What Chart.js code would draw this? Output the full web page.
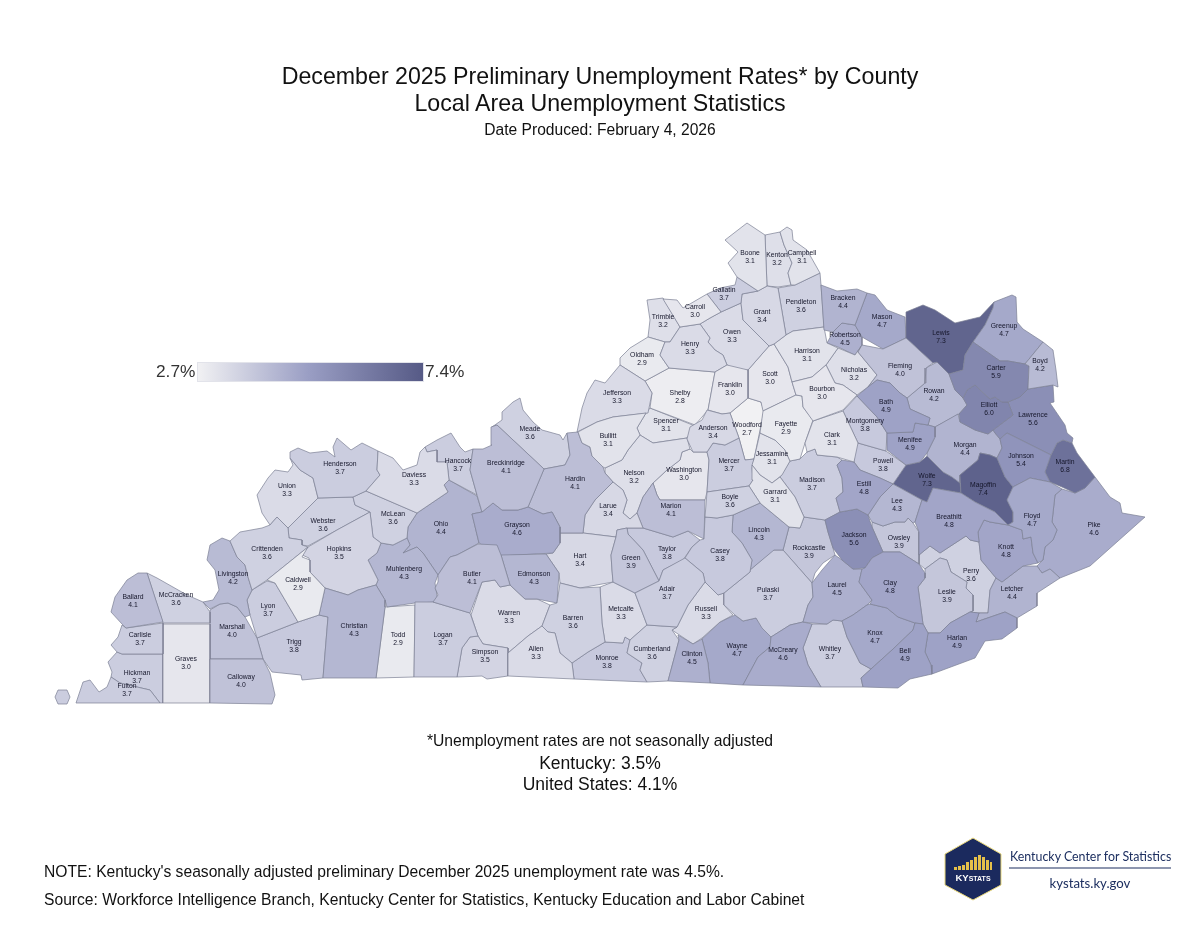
<!DOCTYPE html>
<html>
<head>
<meta charset="utf-8">
<title>Kentucky county unemployment rates</title>
<script src="https://cdn.jsdelivr.net/npm/chart.js@4"></script>
<style>
  html, body { margin: 0; padding: 0; background: #fff; }
  #page { position: relative; width: 1200px; height: 927px; overflow: hidden; font-family: "Liberation Sans", Arial, sans-serif; color: #111; }
  #map { position: absolute; left: 0; top: 0; }
  .t { position: absolute; white-space: nowrap; line-height: 1; }
  .c { left: 0; width: 1200px; text-align: center; }
  #ramp { position: absolute; left: 197px; top: 362px; width: 227px; height: 20px; box-sizing: border-box; border: 1px solid #e2e3ea; background: linear-gradient(90deg, #f1f1f3 0%, #9a9ec4 49%, #565a86 100%); }
  #logo { position: absolute; left: 940px; top: 832px; }
</style>
</head>
<body>
<div id="page">
  <canvas id="map" width="1200" height="927"></canvas>
  <div class="t c" style="top:65px;font-size:23.2px">December 2025 Preliminary Unemployment Rates* by County</div>
  <div class="t c" style="top:92px;font-size:23.2px">Local Area Unemployment Statistics</div>
  <div class="t c" style="top:122px;font-size:15.6px">Date Produced: February 4, 2026</div>
  <div id="ramp"></div>
  <div class="t" style="left:156px;top:363px;font-size:17.3px;color:#333">2.7%</div>
  <div class="t" style="left:425px;top:363px;font-size:17.3px;color:#333">7.4%</div>
  <div class="t c" style="top:733px;font-size:15.7px">*Unemployment rates are not seasonally adjusted</div>
  <div class="t c" style="top:755px;font-size:17.5px">Kentucky: 3.5%</div>
  <div class="t c" style="top:776px;font-size:17.5px">United States: 4.1%</div>
  <div class="t" style="left:44px;top:864px;font-size:15.65px">NOTE: Kentucky's seasonally adjusted preliminary December 2025 unemployment rate was 4.5%.</div>
  <div class="t" style="left:44px;top:892px;font-size:15.65px">Source: Workforce Intelligence Branch, Kentucky Center for Statistics, Kentucky Education and Labor Cabinet</div>
  <svg id="logo" width="240" height="75" viewBox="940 832 240 75">
    <polygon points="973,838 1001,854 1001,885 973,900 945,885 945,854" fill="#1b2a5e" stroke="#e8d77a" stroke-width="1"/>
    <g fill="#e6c04a">
      <rect x="954" y="867" width="3" height="3"/><rect x="958" y="866" width="3" height="4"/><rect x="962" y="865" width="3" height="5"/>
      <rect x="966" y="862" width="3" height="8"/><rect x="970" y="860" width="3" height="10"/><rect x="974" y="857" width="3" height="13"/>
      <rect x="978" y="855" width="3" height="15"/><rect x="982" y="857" width="3" height="13"/><rect x="986" y="860" width="3" height="10"/><rect x="990" y="862" width="2" height="8"/>
    </g>
    <text x="973" y="881" text-anchor="middle" fill="#fff" font-family="Liberation Sans" font-weight="bold" font-size="9.5">KY<tspan font-size="7">STATS</tspan></text>
    <text x="1010" y="861" fill="#1d2f60" font-family="Lato" font-size="12.4">Kentucky Center for Statistics</text>
    <line x1="1009" y1="868" x2="1171" y2="868" stroke="#1d2f60" stroke-width="1.2"/>
    <text x="1090" y="888" text-anchor="middle" fill="#1d2f60" font-family="Lato" font-size="13.2">kystats.ky.gov</text>
  </svg>
</div>
<script>
const countyNames = ['Adair','Allen','Anderson','Ballard','Barren','Bath','Bell','Boone','Bourbon','Boyd','Boyle','Bracken','Breathitt','Breckinridge','Bullitt','Butler','Caldwell','Calloway','Campbell','Carlisle','Carroll','Carter','Casey','Christian','Clark','Clay','Clinton','Crittenden','Cumberland','Daviess','Edmonson','Elliott','Estill','Fayette','Fleming','Floyd','Franklin','Fulton','Gallatin','Garrard','Grant','Graves','Grayson','Green','Greenup','Hancock','Hardin','Harlan','Harrison','Hart','Henderson','Henry','Hickman','Hopkins','Jackson','Jefferson','Jessamine','Johnson','Kenton','Knott','Knox','Larue','Laurel','Lawrence','Lee','Leslie','Letcher','Lewis','Lincoln','Livingston','Logan','Lyon','McCracken','McCreary','McLean','Madison','Magoffin','Marion','Marshall','Martin','Mason','Meade','Menifee','Mercer','Metcalfe','Monroe','Montgomery','Morgan','Muhlenberg','Nelson','Nicholas','Ohio','Oldham','Owen','Owsley','Pendleton','Perry','Pike','Powell','Pulaski','Robertson','Rockcastle','Rowan','Russell','Scott','Shelby','Simpson','Spencer','Taylor','Todd','Trigg','Trimble','Union','Warren','Washington','Wayne','Webster','Whitley','Wolfe','Woodford'];

const countyRates = [3.7,3.3,3.4,4.1,3.6,4.9,4.9,3.1,3.0,4.2,3.6,4.4,4.8,4.1,3.1,4.1,2.9,4.0,3.1,3.7,3.0,5.9,3.8,4.3,3.1,4.8,4.5,3.6,3.6,3.3,4.3,6.0,4.8,2.9,4.0,4.7,3.0,3.7,3.7,3.1,3.4,3.0,4.6,3.9,4.7,3.7,4.1,4.9,3.1,3.4,3.7,3.3,3.7,3.5,5.6,3.3,3.1,5.4,3.2,4.8,4.7,3.4,4.5,5.6,4.3,3.9,4.4,7.3,4.3,4.2,3.7,3.7,3.6,4.6,3.6,3.7,7.4,4.1,4.0,6.8,4.7,3.6,4.9,3.7,3.3,3.8,3.8,4.4,4.3,3.2,3.2,4.4,2.9,3.3,3.9,3.6,3.6,4.6,3.8,3.7,4.5,3.9,4.2,3.3,3.0,2.8,3.5,3.1,3.8,2.9,3.8,3.2,3.3,3.3,3.0,4.7,3.6,3.7,7.3,2.7];

// county shapes, in map units (1 unit = 1 px of the source image, y grows down)
const countyOutlines = [
  [[663,570],[685,558],[703,573],[705,582],[688,605],[677,627],[647,625],[635,593],[659,581]],
  [[508,653],[528,636],[542,626],[548,632],[555,633],[560,653],[572,663],[574,679],[508,676]],
  [[707,410],[722,414],[730,413],[739,438],[725,445],[713,443],[707,452],[693,452],[687,439],[690,427],[702,420]],
  [[147,573],[163,622],[126,628],[122,624],[111,612],[115,597],[127,580],[138,573]],
  [[560,583],[580,588],[600,587],[602,623],[605,642],[588,652],[572,663],[560,653],[555,633],[548,632],[542,626],[550,605],[557,603]],
  [[857,396],[868,387],[877,380],[890,383],[900,393],[907,398],[910,409],[930,418],[928,425],[915,423],[913,432],[887,433],[877,417]],
  [[861,678],[871,669],[892,650],[913,630],[915,623],[923,624],[928,633],[925,652],[931,665],[932,674],[910,679],[898,688],[863,687]],
  [[747,223],[765,235],[767,286],[758,291],[737,277],[728,263],[738,252],[725,240]],
  [[792,382],[812,377],[826,365],[835,383],[843,385],[857,395],[843,410],[813,421],[803,407],[802,396],[796,395]],
  [[1043,342],[1053,350],[1056,370],[1058,387],[1053,385],[1028,389],[1029,366],[1025,364]],
  [[707,492],[749,486],[760,503],[733,515],[717,518],[705,517]],
  [[821,285],[837,291],[857,289],[867,293],[855,325],[842,323],[833,332],[824,330]],
  [[915,522],[922,500],[927,502],[933,488],[961,493],[975,502],[995,512],[1008,525],[990,522],[984,520],[978,532],[979,542],[970,540],[966,536],[940,553],[930,546],[919,555],[919,532]],
  [[473,449],[483,449],[492,445],[491,427],[497,425],[544,469],[528,507],[518,510],[502,510],[493,503],[482,512],[477,495],[470,470]],
  [[578,432],[597,422],[613,417],[646,413],[637,428],[640,435],[628,450],[622,460],[605,468],[603,467],[592,456],[590,447],[582,443]],
  [[438,575],[450,557],[457,555],[478,544],[497,545],[501,555],[510,585],[500,587],[495,580],[482,582],[470,613],[433,602],[438,595],[435,588],[438,582]],
  [[267,580],[308,547],[302,557],[310,560],[310,572],[325,588],[319,615],[298,622],[275,583]],
  [[210,659],[263,659],[270,673],[275,695],[272,704],[210,703]],
  [[780,232],[787,227],[792,230],[793,240],[807,250],[820,273],[795,285],[791,285],[788,273],[792,263],[784,245]],
  [[126,628],[163,623],[163,654],[122,654],[117,652],[111,645],[118,637],[122,625]],
  [[663,299],[677,300],[683,308],[707,294],[721,312],[710,318],[700,324],[680,327]],
  [[973,342],[1000,361],[1008,361],[1025,364],[1029,366],[1028,389],[1020,397],[1008,402],[1002,402],[995,397],[990,399],[975,385],[967,390],[963,398],[955,390],[949,374],[963,370],[965,355]],
  [[705,517],[717,518],[733,515],[732,532],[742,543],[752,560],[750,572],[724,593],[718,595],[705,582],[703,573],[685,558],[692,547],[700,540],[704,539]],
  [[325,588],[348,595],[358,590],[376,585],[385,600],[385,607],[376,678],[323,678],[328,617],[319,615]],
  [[813,421],[843,411],[858,443],[854,462],[837,457],[817,455],[815,449],[807,452],[805,443]],
  [[883,552],[900,552],[919,564],[925,573],[925,578],[918,587],[923,624],[915,623],[898,617],[887,608],[870,604],[872,600],[859,582],[862,569],[865,568],[872,558]],
  [[678,635],[693,644],[702,639],[708,663],[710,683],[668,681],[679,640]],
  [[230,541],[240,532],[262,528],[270,525],[277,517],[288,528],[289,538],[302,540],[302,545],[308,547],[267,580],[252,590],[248,577],[245,565],[237,557]],
  [[647,625],[677,627],[672,630],[679,640],[668,681],[647,682],[640,670],[642,663],[627,653],[630,640]],
  [[378,451],[393,458],[403,470],[417,465],[420,452],[425,447],[427,452],[437,450],[437,462],[447,462],[449,480],[444,485],[448,492],[417,513],[366,491],[380,475],[377,470]],
  [[501,555],[546,554],[559,573],[557,603],[537,599],[525,599],[510,585]],
  [[963,398],[967,390],[975,385],[990,399],[995,397],[1002,402],[1008,402],[1013,415],[993,430],[988,434],[975,430],[960,422],[959,414],[967,405]],
  [[842,460],[854,462],[860,470],[880,478],[893,484],[880,497],[868,515],[857,509],[840,512],[836,498],[843,492],[842,478],[837,465]],
  [[763,411],[796,395],[802,396],[803,407],[813,420],[805,443],[800,459],[790,461],[785,450],[775,440],[760,433]],
  [[858,352],[862,345],[883,349],[906,338],[933,363],[926,368],[925,383],[907,398],[900,393],[890,383],[877,380],[868,387],[877,375]],
  [[1013,487],[1030,478],[1050,482],[1062,489],[1055,495],[1052,522],[1057,530],[1053,540],[1045,547],[1043,560],[1038,563],[1033,553],[1031,537],[1023,539],[1022,530],[1008,525],[1013,522],[1013,512],[1007,500]],
  [[715,372],[727,365],[748,370],[748,398],[730,413],[722,414],[708,410]],
  [[76,703],[83,682],[90,680],[99,692],[107,687],[111,677],[120,683],[137,687],[150,690],[160,703]],
  [[707,294],[720,288],[735,285],[737,277],[758,291],[742,294],[741,303],[721,312]],
  [[752,465],[760,475],[772,483],[780,477],[795,497],[804,517],[800,528],[789,527],[760,503],[749,486],[753,480]],
  [[742,294],[758,291],[767,286],[778,288],[786,335],[774,344],[769,346],[743,320],[741,303]],
  [[163,624],[210,624],[210,703],[163,703]],
  [[472,514],[482,512],[493,503],[502,510],[518,510],[528,507],[543,514],[552,512],[560,527],[560,543],[553,553],[500,556],[479,543]],
  [[617,530],[627,528],[628,534],[643,550],[659,581],[635,593],[613,582],[612,570],[611,555],[616,537]],
  [[994,302],[1012,295],[1016,297],[1017,322],[1023,329],[1043,342],[1025,364],[1008,361],[1000,361],[973,342],[985,325],[993,308]],
  [[425,447],[437,440],[451,433],[460,447],[465,452],[473,449],[470,470],[477,495],[449,480],[447,462],[437,462],[437,450],[427,452]],
  [[544,469],[565,465],[570,455],[567,433],[578,432],[582,443],[590,447],[592,456],[603,467],[605,473],[613,482],[595,500],[585,515],[583,533],[560,533],[560,527],[552,512],[543,514],[528,507]],
  [[970,612],[979,613],[976,622],[1005,612],[1017,618],[1017,628],[1002,639],[985,641],[975,658],[932,674],[931,665],[925,652],[928,633],[940,633],[950,623]],
  [[774,344],[786,335],[793,331],[824,327],[827,343],[838,348],[826,365],[812,377],[792,382],[788,367]],
  [[560,533],[583,533],[616,537],[611,555],[612,570],[613,582],[580,588],[560,583],[559,573],[546,554],[553,553],[560,543]],
  [[290,452],[298,448],[310,453],[327,451],[335,457],[333,447],[337,438],[351,450],[362,443],[378,451],[377,470],[380,475],[366,491],[353,497],[318,498],[313,478],[300,470],[290,458]],
  [[670,342],[680,327],[700,324],[710,338],[708,342],[715,350],[723,355],[727,365],[715,372],[669,368],[660,355],[665,342]],
  [[122,654],[163,654],[163,703],[160,703],[150,690],[137,687],[120,683],[111,677],[112,672],[108,662],[117,652]],
  [[370,512],[373,537],[381,543],[377,553],[368,560],[378,580],[376,585],[358,590],[348,595],[325,588],[310,572],[309,558],[302,555],[308,547],[337,530]],
  [[825,520],[840,512],[857,509],[868,515],[872,527],[883,552],[872,558],[865,568],[853,569],[842,560],[833,548],[828,532]],
  [[577,432],[582,408],[587,393],[595,380],[605,383],[620,365],[645,381],[652,393],[648,413],[613,417],[597,422]],
  [[760,433],[775,440],[785,450],[790,461],[782,475],[772,483],[760,475],[752,465],[754,459]],
  [[1000,439],[1007,433],[1027,443],[1051,455],[1045,472],[1050,482],[1030,478],[1013,487],[1005,477],[997,458],[1002,448]],
  [[765,235],[780,232],[784,245],[792,263],[788,273],[791,285],[778,287],[767,286]],
  [[978,532],[984,520],[990,522],[1008,525],[1022,530],[1023,539],[1031,537],[1033,553],[1038,563],[1023,566],[1002,582],[996,578],[981,560],[979,542]],
  [[867,605],[870,604],[887,608],[898,617],[915,623],[913,630],[892,650],[871,669],[860,663],[847,637],[842,621],[853,615]],
  [[613,482],[623,490],[627,500],[623,513],[630,519],[637,513],[643,528],[627,528],[617,530],[616,537],[583,533],[585,515],[595,500]],
  [[812,583],[822,570],[835,555],[842,560],[853,569],[862,569],[859,582],[872,600],[867,605],[853,615],[842,621],[833,620],[827,624],[812,623],[803,622],[808,605],[813,597]],
  [[1028,389],[1053,385],[1054,402],[1050,403],[1065,425],[1067,433],[1073,438],[1072,443],[1063,440],[1057,443],[1051,455],[1027,443],[1007,433],[1000,439],[995,433],[993,430],[1013,415],[1008,402],[1020,397]],
  [[893,484],[922,500],[915,522],[913,523],[908,518],[905,522],[895,522],[883,526],[872,522],[868,515],[880,497]],
  [[925,569],[940,558],[947,560],[951,572],[967,582],[966,588],[973,595],[973,611],[970,612],[950,623],[940,633],[928,633],[923,624],[918,587],[925,578]],
  [[1002,582],[1023,566],[1037,566],[1042,573],[1050,569],[1060,578],[1037,593],[1037,606],[1017,618],[1005,612],[976,622],[979,613],[988,613],[990,590],[996,578]],
  [[906,312],[923,305],[935,310],[955,323],[980,317],[994,302],[993,308],[985,325],[973,342],[965,355],[963,370],[949,374],[937,362],[933,363],[906,338]],
  [[733,515],[760,503],[789,527],[783,550],[774,550],[750,570],[752,560],[742,543],[732,532]],
  [[222,538],[230,541],[237,557],[245,565],[248,577],[252,590],[247,600],[250,615],[245,617],[237,607],[228,603],[220,604],[210,609],[203,602],[213,600],[219,590],[215,570],[207,560],[210,545]],
  [[415,602],[433,602],[470,613],[478,636],[470,637],[462,648],[457,677],[414,677]],
  [[247,600],[252,590],[267,581],[275,583],[298,622],[257,638],[250,615]],
  [[147,573],[157,578],[187,595],[203,602],[210,612],[210,623],[163,623]],
  [[771,637],[790,625],[803,622],[812,624],[803,648],[808,665],[821,687],[743,685],[758,657],[770,647]],
  [[353,497],[366,491],[417,513],[408,527],[407,538],[393,545],[381,543],[373,537],[370,512],[355,505]],
  [[780,477],[790,461],[800,459],[807,452],[815,449],[817,455],[837,457],[842,460],[837,465],[842,478],[843,492],[836,498],[840,512],[825,520],[804,517],[795,497]],
  [[978,460],[980,453],[990,455],[997,458],[1005,477],[1013,487],[1007,500],[1013,512],[1013,522],[1008,525],[995,512],[975,502],[961,493],[960,475]],
  [[653,483],[657,495],[660,500],[705,500],[704,539],[688,531],[673,537],[643,528],[637,513],[643,497]],
  [[210,610],[220,604],[228,603],[237,607],[245,617],[257,638],[263,659],[210,659]],
  [[1051,455],[1057,443],[1063,440],[1072,443],[1077,453],[1095,477],[1085,488],[1075,493],[1062,487],[1050,482],[1045,472]],
  [[867,293],[875,295],[887,310],[905,317],[906,338],[883,349],[862,337],[855,325]],
  [[492,427],[502,420],[502,412],[513,402],[520,398],[523,410],[533,422],[542,430],[560,435],[563,440],[567,433],[570,455],[565,465],[544,469],[497,425]],
  [[887,433],[913,432],[915,423],[928,425],[935,427],[935,437],[927,453],[920,462],[906,465],[887,450]],
  [[739,438],[745,460],[754,459],[752,468],[753,480],[749,486],[707,492],[709,460],[707,452],[713,443],[725,445]],
  [[600,587],[613,582],[635,593],[647,625],[630,640],[625,637],[623,643],[605,642],[602,623]],
  [[572,663],[588,652],[605,642],[623,643],[625,637],[630,640],[627,653],[642,663],[640,670],[647,682],[574,679]],
  [[843,411],[857,396],[877,417],[887,433],[886,451],[858,443]],
  [[935,427],[958,414],[960,422],[975,430],[988,434],[993,430],[995,433],[1000,439],[1002,448],[997,458],[990,455],[980,453],[978,460],[960,475],[960,483],[952,477],[943,472],[927,456],[927,453],[935,437]],
  [[381,543],[393,545],[407,538],[410,545],[403,553],[417,547],[423,553],[438,575],[435,583],[438,602],[415,603],[387,607],[385,600],[376,585],[378,580],[368,560],[377,553]],
  [[605,468],[622,460],[628,450],[640,435],[653,443],[687,438],[690,449],[682,452],[680,460],[667,470],[653,483],[643,497],[637,513],[630,519],[623,513],[627,500],[623,490],[613,482],[605,473]],
  [[826,365],[838,348],[855,355],[862,345],[858,352],[877,375],[868,387],[857,395],[843,385],[835,383]],
  [[449,480],[477,496],[482,512],[472,514],[479,543],[457,555],[450,557],[438,575],[423,553],[417,547],[403,553],[410,545],[407,538],[408,527],[417,513],[448,492],[444,485]],
  [[620,358],[630,348],[648,337],[665,342],[660,355],[669,368],[645,381],[620,365]],
  [[721,312],[741,303],[743,320],[769,346],[748,370],[738,371],[727,365],[723,355],[715,350],[708,342],[710,338],[700,324],[710,318]],
  [[872,522],[883,526],[895,522],[905,522],[908,518],[913,523],[919,532],[919,555],[919,564],[900,552],[883,552],[872,527]],
  [[778,288],[795,285],[820,273],[821,285],[824,327],[793,331],[786,335]],
  [[919,555],[930,546],[940,553],[966,536],[970,540],[979,542],[981,560],[996,578],[990,590],[988,613],[979,613],[970,612],[973,611],[973,595],[966,588],[967,582],[951,572],[947,560],[940,558],[925,569],[919,564]],
  [[1062,489],[1075,493],[1085,488],[1095,477],[1110,497],[1120,503],[1122,513],[1145,517],[1090,566],[1060,578],[1050,569],[1042,573],[1037,566],[1043,560],[1045,547],[1053,540],[1057,530],[1052,522],[1055,495]],
  [[855,446],[858,443],[886,451],[906,465],[893,484],[880,478],[860,470],[854,462]],
  [[773,550],[783,550],[812,583],[813,597],[808,605],[803,622],[790,625],[771,637],[762,628],[756,618],[743,621],[735,615],[724,605],[724,593],[750,572],[750,570]],
  [[833,332],[842,323],[855,325],[862,337],[862,345],[855,355],[838,347],[827,343]],
  [[789,527],[800,528],[804,517],[825,520],[828,532],[833,548],[835,555],[823,563],[815,573],[812,583],[783,550]],
  [[926,368],[937,362],[949,374],[955,390],[963,398],[967,405],[959,414],[935,427],[928,425],[930,418],[910,409],[907,398],[925,383]],
  [[705,582],[718,595],[724,593],[724,605],[733,615],[720,622],[702,638],[693,644],[672,630],[677,627],[688,605]],
  [[774,344],[788,367],[792,382],[796,395],[763,411],[761,402],[748,398],[748,370],[769,346]],
  [[645,381],[669,368],[715,372],[708,410],[702,417],[695,425],[650,408],[652,393]],
  [[478,636],[483,644],[508,648],[508,676],[487,679],[482,676],[457,677],[462,648],[470,637]],
  [[650,408],[695,426],[687,438],[653,443],[640,435],[637,428],[646,413]],
  [[627,528],[643,528],[673,537],[688,531],[700,540],[692,547],[683,560],[663,570],[659,581],[643,550],[628,534]],
  [[385,607],[415,605],[414,677],[376,678]],
  [[257,638],[298,622],[319,615],[328,617],[323,678],[302,680],[301,675],[272,672],[263,659]],
  [[647,300],[663,298],[680,327],[670,342],[665,342],[648,337],[650,320]],
  [[290,458],[300,470],[313,478],[318,498],[288,528],[277,517],[270,525],[262,513],[257,495],[268,478],[275,470],[288,472],[293,465]],
  [[482,582],[495,580],[500,587],[510,585],[525,599],[537,599],[550,605],[542,626],[528,636],[508,653],[508,648],[483,644],[478,636],[471,615]],
  [[653,483],[667,470],[680,460],[682,452],[690,449],[693,452],[707,452],[709,460],[707,492],[705,500],[660,500],[657,495]],
  [[702,639],[720,622],[735,615],[743,621],[756,618],[771,637],[770,647],[758,657],[743,685],[710,683],[708,663]],
  [[318,498],[353,497],[355,505],[370,512],[337,530],[308,546],[302,545],[302,540],[289,538],[288,528]],
  [[812,624],[827,624],[833,620],[842,621],[847,637],[860,663],[871,669],[861,678],[863,687],[821,687],[808,665],[803,648]],
  [[893,484],[906,465],[920,462],[927,456],[943,472],[952,477],[960,483],[961,493],[933,488],[927,502],[922,500]],
  [[730,413],[748,398],[761,402],[764,411],[754,459],[745,460],[739,438]]
];

// where each county's name sits, map units
const labelSpots = [[667,589],[536,649],[713,428],[133,597],[573,618],[886,402],[905,651],[750,253],[822,389],[1040,361],[730,497],[843,298],[949,517],[506,463],[608,436],[472,574],[298,580],[241,677],[802,253],[140,635],[695,307],[996,368],[720,551],[354,626],[832,435],[890,583],[692,654],[267,549],[652,649],[414,475],[534,574],[989,405],[864,484],[786,424],[900,366],[1032,516],[730,385],[127,686],[724,290],[775,492],[762,312],[186,659],[517,525],[631,558],[1004,326],[458,461],[575,479],[957,638],[807,351],[580,556],[340,464],[690,344],[137,673],[339,549],[854,535],[617,393],[772,454],[1021,456],[777,255],[1006,547],[875,633],[608,506],[837,585],[1033,415],[897,501],[947,592],[1012,589],[941,333],[759,530],[233,574],[443,635],[268,606],[176,595],[783,650],[393,514],[812,480],[983,485],[671,506],[232,627],[1065,462],[882,317],[530,429],[910,440],[729,461],[621,609],[607,658],[865,421],[965,445],[404,569],[634,473],[854,370],[441,524],[642,355],[732,332],[899,538],[801,302],[971,571],[1094,525],[883,461],[768,590],[845,335],[809,548],[934,391],[706,609],[770,374],[680,393],[485,652],[666,421],[667,549],[398,635],[294,642],[663,317],[287,486],[509,613],[684,470],[737,646],[323,521],[830,649],[927,476],[747,425]];

const fultonIsland = [[55,697],[58,690],[67,690],[70,697],[67,704],[58,704]];

const rateStops = [[2.7, [241,241,243]], [5.0, [154,158,196]], [7.4, [94,98,140]]];

function rateColor(v) {
  let a = rateStops[0], b = rateStops[1];
  if (v > b[0]) { a = rateStops[1]; b = rateStops[2]; }
  const t = (v - a[0]) / (b[0] - a[0]);
  const c = a[1].map((x, i) => Math.round(x + (b[1][i] - x) * t));
  return `rgb(${c[0]},${c[1]},${c[2]})`;
}

function shapeDataset(label, outline, rate) {
  const pts = outline.map(p => ({ x: p[0], y: p[1] }));
  pts.push({ x: outline[0][0], y: outline[0][1] });
  return {
    label,
    data: pts,
    showLine: true,
    fill: 'shape',
    tension: 0,
    pointRadius: 0,
    pointHoverRadius: 0,
    borderWidth: 0.7,
    borderColor: '#7b7f93',
    backgroundColor: rateColor(rate)
  };
}

const datasets = countyNames.map((name, i) => shapeDataset(name, countyOutlines[i], countyRates[i]));
datasets.push(shapeDataset('Fulton', fultonIsland, countyRates[countyNames.indexOf('Fulton')]));

const countyLabels = {
  id: 'countyLabels',
  afterDatasetsDraw(chart) {
    const { ctx, scales: { x, y } } = chart;
    ctx.save();
    ctx.font = '6.8px "Liberation Sans"';
    ctx.fillStyle = '#15162a';
    ctx.textAlign = 'center';
    ctx.textBaseline = 'middle';
    countyNames.forEach((name, i) => {
      const px = x.getPixelForValue(labelSpots[i][0]);
      const py = y.getPixelForValue(labelSpots[i][1]);
      ctx.fillText(name, px, py);
      ctx.fillText(countyRates[i].toFixed(1), px, py + 8);
    });
    ctx.restore();
  }
};

new Chart(document.getElementById('map'), {
  type: 'scatter',
  data: { datasets },
  plugins: [countyLabels],
  options: {
    responsive: false,
    animation: false,
    events: [],
    layout: { padding: 0 },
    plugins: { legend: { display: false }, tooltip: { enabled: false } },
    scales: {
      x: { type: 'linear', min: 0, max: 1200, display: false },
      y: { type: 'linear', min: 0, max: 927, reverse: true, display: false }
    }
  }
});
</script>
</body>
</html>
